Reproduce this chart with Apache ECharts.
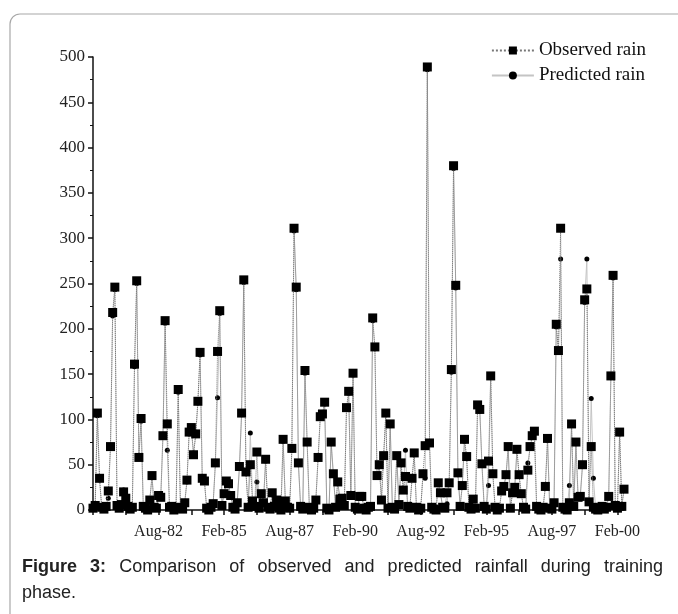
<!DOCTYPE html>
<html>
<head>
<meta charset="utf-8">
<script src="https://cdn.jsdelivr.net/npm/echarts@6/dist/echarts.min.js"></script>
<style>
  html, body { margin: 0; padding: 0; background: #fff; }
  #chart { width: 678px; height: 614px; }
</style>
</head>
<body>
<div id="chart"></div>
<script>
// monthly rainfall, Feb-80 .. May-00 (one row = 12 months)
var observed = [
  2, 5, 107, 35, 3, 1, 4, 21, 70, 218, 246, 5,
  2, 6, 20, 13, 4, 1, 3, 161, 253, 58, 101, 4,
  2, 0, 11, 38, 3, 2, 16, 14, 82, 209, 95, 3,
  4, 0, 2, 133, 3, 1, 8, 33, 86, 91, 61, 84,
  120, 174, 35, 32, 2, 0, 3, 7, 52, 175, 220, 5,
  18, 32, 29, 16, 3, 1, 8, 48, 107, 254, 42, 3,
  50, 10, 4, 64, 2, 18, 8, 56, 3, 1, 19, 4,
  11, 2, 0, 78, 10, 3, 2, 68, 311, 246, 52, 4,
  1, 154, 75, 3, 0, 2, 11, 58, 103, 106, 119, 2,
  0, 75, 40, 3, 31, 12, 13, 5, 113, 131, 16, 151,
  3, 1, 15, 15, 2, 0, 3, 4, 212, 180, 38, 50,
  11, 60, 107, 2, 95, 3, 1, 60, 6, 52, 22, 37,
  4, 2, 35, 63, 3, 0, 2, 40, 71, 489, 74, 3,
  1, 0, 30, 19, 3, 2, 19, 30, 155, 380, 248, 41,
  4, 27, 78, 59, 3, 1, 12, 2, 116, 111, 51, 4,
  1, 54, 148, 40, 3, 0, 2, 21, 26, 39, 70, 2,
  19, 25, 67, 39, 18, 3, 1, 44, 70, 82, 87, 4,
  1, 0, 3, 26, 79, 2, 1, 8, 205, 176, 311, 3,
  1, 0, 8, 95, 4, 75, 14, 15, 50, 232, 244, 9,
  70, 3, 1, 0, 2, 4, 1, 3, 15, 148, 259, 5,
  2, 86, 4, 23
];

var predicted = [
  3, 4, 104, 33, 2, 2, 5, 13, 68, 214, 243, 6,
  3, 5, 22, 12, 3, 2, 4, 158, 250, 60, 98, 5,
  3, 1, 12, 36, 4, 3, 17, 13, 80, 206, 66, 4,
  3, 1, 3, 130, 4, 2, 9, 31, 84, 89, 63, 82,
  118, 171, 33, 31, 3, 1, 4, 8, 50, 124, 217, 6,
  17, 30, 28, 15, 4, 2, 9, 46, 105, 251, 40, 4,
  85, 11, 5, 31, 3, 17, 9, 54, 4, 2, 18, 5,
  10, 3, 1, 76, 11, 4, 3, 66, 308, 243, 50, 5,
  2, 151, 73, 4, 1, 3, 12, 56, 101, 104, 117, 3,
  1, 73, 38, 4, 30, 13, 12, 6, 111, 129, 15, 149,
  4, 2, 14, 16, 3, 1, 4, 5, 209, 178, 36, 48,
  12, 58, 105, 3, 93, 4, 2, 58, 7, 50, 21, 66,
  5, 3, 34, 61, 4, 1, 3, 38, 35, 486, 72, 4,
  2, 1, 29, 18, 4, 3, 7, 29, 152, 377, 245, 39,
  5, 26, 76, 57, 4, 2, 11, 3, 114, 109, 49, 5,
  2, 27, 146, 38, 4, 1, 3, 20, 25, 37, 68, 3,
  18, 24, 65, 37, 17, 4, 2, 52, 68, 80, 85, 5,
  2, 1, 4, 25, 77, 3, 2, 9, 202, 174, 277, 4,
  2, 1, 27, 93, 5, 73, 13, 16, 48, 229, 277, 10,
  123, 35, 2, 1, 3, 5, 2, 4, 14, 146, 256, 6,
  3, 84, 5, 22
];

var monthNames = ["Jan", "Feb", "Mar", "Apr", "May", "Jun", "Jul", "Aug", "Sep", "Oct", "Nov", "Dec"];
var startYear = 1980, startMonth = 1; // Feb-80
var months = [];
for (var i = 0; i < observed.length; i++) {
  var m = startMonth + i;
  var y = startYear + Math.floor(m / 12);
  months.push(monthNames[m % 12] + "-" + String(y % 100).padStart(2, "0"));
}
var yTicks = { min: 0, max: 500, step: 50 };

var captionBold = ["Figure", "3:"];
var captionLine1 = ["Comparison", "of", "observed", "and", "predicted", "rainfall", "during", "training"];
var captionLine2 = "phase.";

var serif = "Liberation Serif";
var sans = "Liberation Sans";

// justified first caption line, like the journal layout
function captionGraphics() {
  var ctx = document.createElement("canvas").getContext("2d");
  var size = 18;
  var words = captionBold.map(function (w) { return { t: w, b: true }; })
    .concat(captionLine1.map(function (w) { return { t: w, b: false }; }));
  var total = 0;
  words.forEach(function (w) {
    ctx.font = (w.b ? "bold " : "") + size + "px " + sans;
    w.w = ctx.measureText(w.t).width;
    total += w.w;
  });
  var x0 = 22, x1 = 663;
  var gap = (x1 - x0 - total) / (words.length - 1);
  var out = [];
  var x = x0;
  words.forEach(function (w) {
    out.push({
      type: "text", x: x, y: 567, silent: true,
      style: {
        text: w.t, fontFamily: sans, fontSize: size, fontWeight: w.b ? "bold" : "normal",
        fill: "#222", verticalAlign: "middle"
      }
    });
    x += w.w + gap;
  });
  out.push({
    type: "text", x: x0, y: 593, silent: true,
    style: { text: captionLine2, fontFamily: sans, fontSize: size, fill: "#222", verticalAlign: "middle" }
  });
  return out;
}

var chart = echarts.init(document.getElementById("chart"));

chart.setOption({
  animation: false,
  backgroundColor: "#fff",
  grid: { left: 93, right: 54, top: 57, bottom: 104, containLabel: false },
  legend: {
    orient: "vertical",
    right: 27,
    top: 36,
    itemWidth: 42,
    itemHeight: 10,
    itemGap: 6,
    data: ["Observed rain", "Predicted rain"],
    textStyle: { fontFamily: serif, fontSize: 19, color: "#111" }
  },
  xAxis: {
    type: "category",
    boundaryGap: false,
    data: months,
    axisLine: { lineStyle: { color: "#111", width: 1.5 } },
    axisTick: {
      length: 5,
      lineStyle: { color: "#111", width: 1.5 },
      interval: function (idx) { return idx % 15 === 0; }
    },
    axisLabel: {
      fontFamily: serif,
      fontSize: 16,
      color: "#222",
      margin: 14,
      interval: function (idx) { return idx > 0 && idx % 30 === 0; }
    },
    splitLine: { show: false }
  },
  yAxis: {
    type: "value",
    min: yTicks.min,
    max: yTicks.max,
    interval: yTicks.step,
    axisLine: { show: true, lineStyle: { color: "#111", width: 1.5 } },
    axisTick: { show: true, length: 5, lineStyle: { color: "#111", width: 1.5 } },
    minorTick: { show: true, splitNumber: 2, length: 3, lineStyle: { color: "#111" } },
    axisLabel: { fontFamily: serif, fontSize: 17, color: "#222", margin: 8 },
    splitLine: { show: false }
  },
  series: [
    {
      name: "Observed rain",
      type: "line",
      data: observed,
      z: 3,
      symbol: "rect",
      symbolSize: 9,
      showAllSymbol: true,
      itemStyle: { color: "#000" },
      lineStyle: { color: "#777", width: 1, type: "dotted" },
      emphasis: { disabled: true }
    },
    {
      name: "Predicted rain",
      type: "line",
      data: predicted,
      z: 2,
      symbol: "circle",
      symbolSize: 5,
      showAllSymbol: true,
      itemStyle: { color: "#000" },
      lineStyle: { color: "#c4c4c4", width: 1 },
      emphasis: { disabled: true }
    }
  ],
  graphic: [
    {
      type: "rect",
      shape: { x: 10, y: 14, width: 720, height: 640, r: 10 },
      style: { fill: "none", stroke: "#a8a8a8", lineWidth: 1.2 },
      silent: true
    }
  ].concat(captionGraphics())
});
</script>
</body>
</html>
